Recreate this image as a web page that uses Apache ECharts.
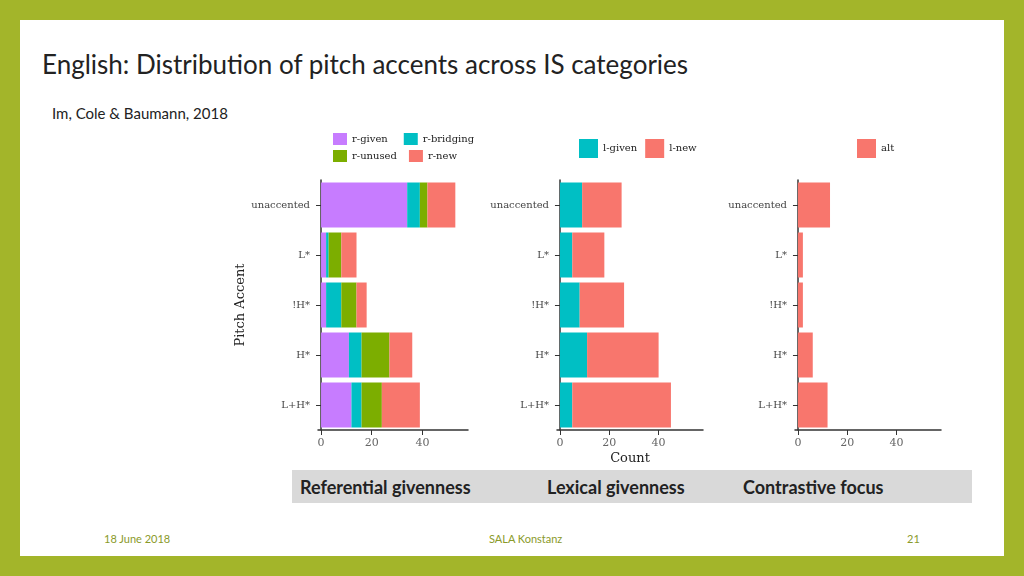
<!DOCTYPE html>
<html>
<head>
<meta charset="UTF-8">
<script src="https://cdn.jsdelivr.net/npm/echarts@6/dist/echarts.min.js"></script>
<style>
  body { margin: 0; background: #a3b52a; }
  .slide { position: absolute; left: 20px; top: 20px; width: 984px; height: 536px; background: #fff; font-family: Lato, "Open Sans", sans-serif; }
  .title { position: absolute; left: 22px; top: 28px; font-size: 26px; color: #222; }
  .cite { position: absolute; left: 32px; top: 84px; font-size: 15px; color: #222; }
  .bar { position: absolute; left: 272px; top: 450px; width: 680px; height: 33px; background: #d9d9d9; font-weight: bold; font-size: 18px; color: #222; }
  .bar span { position: absolute; top: 6px; }
  .foot { position: absolute; top: 512px; font-size: 11px; color: #8a9a2a; }
  #chart { position: absolute; left: 0; top: 0; width: 1024px; height: 576px; }
</style>
</head>
<body>
<div class="slide">
  <div class="title">English: Distribution of pitch accents across IS categories</div>
  <div class="cite">Im, Cole &amp; Baumann, 2018</div>
  <div class="bar"><span style="left:8px">Referential givenness</span><span style="left:255px">Lexical givenness</span><span style="left:451px">Contrastive focus</span></div>
  <div class="foot" style="left:84px">18 June 2018</div>
  <div class="foot" style="left:469px">SALA Konstanz</div>
  <div class="foot" style="left:887px">21</div>
</div>
<div id="chart"></div>
<script>
const categories = ['unaccented', 'L*', '!H*', 'H*', 'L+H*'];
const rGiven = [34, 2, 2, 11, 12];
const rBridging = [5, 1, 6, 5, 4];
const rUnused = [3, 5, 6, 11, 8];
const rNew = [11, 6, 4, 9, 15];
const lGiven = [9, 5, 8, 11, 5];
const lNew = [16, 13, 18, 29, 40];
const alt = [13, 2, 2, 6, 12];
const tickValues = [0, 20, 40];

const chart = echarts.init(document.getElementById('chart'));
const grids = [
  { left: 318, width: 150, top: 180, height: 250 },
  { left: 557, width: 146, top: 180, height: 250 },
  { left: 795, width: 146, top: 180, height: 250 }
];
const serif = 'DejaVu Serif';
const xAxes = grids.map((g, i) => ({
  type: 'value', gridIndex: i, min: -1.2, max: 58,
  splitLine: { show: false },
  axisLine: { show: true, lineStyle: { color: '#333', width: 1.5 } },
  axisTick: { show: true, customValues: tickValues, lineStyle: { color: '#333' } },
  axisLabel: { customValues: tickValues, color: '#666', fontFamily: serif, fontSize: 11 },
  name: i === 1 ? 'Count' : '', nameLocation: 'middle', nameGap: 22,
  nameTextStyle: { fontFamily: serif, fontSize: 13, color: '#222' }
}));
const yAxes = grids.map((g, i) => ({
  type: 'category', gridIndex: i, data: categories, inverse: true,
  axisLine: { show: true, lineStyle: { color: '#333', width: 1.5 } },
  axisTick: { show: true, alignWithLabel: true, lineStyle: { color: '#333' } },
  axisLabel: { color: '#444', fontFamily: serif, fontSize: 10 },
  name: i === 0 ? 'Pitch Accent' : '', nameLocation: 'middle', nameGap: 62, nameRotate: 90,
  nameTextStyle: { fontFamily: serif, fontSize: 13, color: '#222' }
}));
function s(name, data, color, idx, stack) {
  return { name, type: 'bar', stack, data, xAxisIndex: idx, yAxisIndex: idx,
    barCategoryGap: '10%', itemStyle: { color } };
}
const legendBase = { itemWidth: 14, itemHeight: 12, itemGap: 8, icon: 'rect',
  textStyle: { fontFamily: serif, fontSize: 10, color: '#222' } };
chart.setOption({
  animation: false,
  grid: grids,
  xAxis: xAxes,
  yAxis: yAxes,
  legend: [
    Object.assign({}, legendBase, { left: 328, top: 128, data: ['r-given', 'r-bridging'], itemGap: 16 }),
    Object.assign({}, legendBase, { left: 328, top: 145, data: ['r-unused', 'r-new'], itemGap: 12 }),
    Object.assign({}, legendBase, { left: 574, top: 134, data: ['l-given', 'l-new'], itemWidth: 19, itemHeight: 19 }),
    Object.assign({}, legendBase, { left: 852, top: 134, data: ['alt'], itemWidth: 19, itemHeight: 19 })
  ],
  series: [
    s('r-given', rGiven, '#c77cff', 0, 'a'),
    s('r-bridging', rBridging, '#00bfc4', 0, 'a'),
    s('r-unused', rUnused, '#7cae00', 0, 'a'),
    s('r-new', rNew, '#f8766d', 0, 'a'),
    s('l-given', lGiven, '#00bfc4', 1, 'b'),
    s('l-new', lNew, '#f8766d', 1, 'b'),
    s('alt', alt, '#f8766d', 2, 'c')
  ]
});
</script>
</body>
</html>
